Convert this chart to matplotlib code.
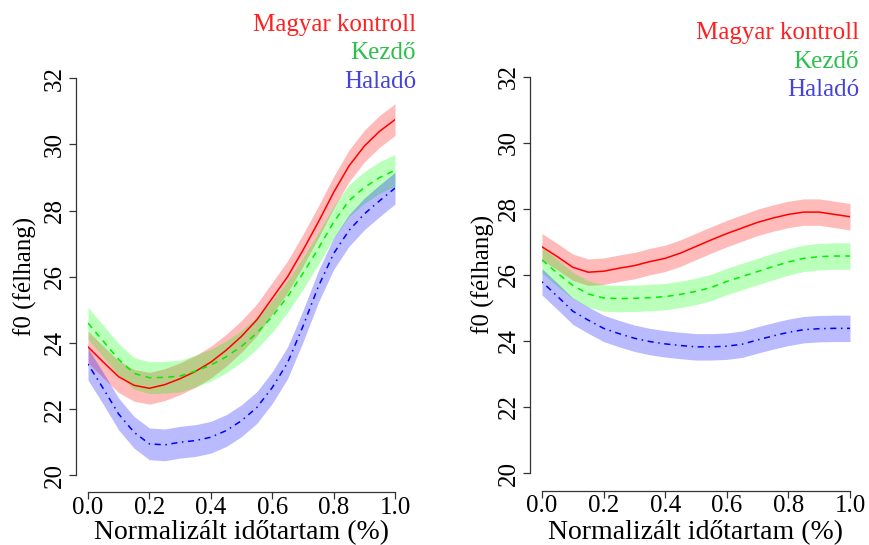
import matplotlib
matplotlib.use("Agg")
import matplotlib.pyplot as plt
import numpy as np

plt.rcParams['font.family'] = ['Liberation Serif', 'DejaVu Serif']

# normalised time points
x_pts = [0.0, 0.05, 0.1, 0.15, 0.2, 0.25, 0.3, 0.35, 0.4, 0.45, 0.5,
         0.55, 0.6, 0.65, 0.7, 0.75, 0.8, 0.85, 0.9, 0.95, 1.0]

# left panel: mean f0 (semitones)
left_kontroll = [23.88, 23.42, 22.98, 22.72, 22.63, 22.74, 22.92, 23.14, 23.42, 23.78, 24.2,
                 24.7, 25.35, 26.0, 26.8, 27.65, 28.55, 29.35, 29.95, 30.4, 30.75]
left_kezdo = [24.6, 24.05, 23.5, 23.08, 22.95, 22.96, 23.0, 23.15, 23.33, 23.58, 23.9,
              24.3, 24.8, 25.4, 26.1, 26.85, 27.65, 28.3, 28.7, 29.0, 29.22]
left_halado = [23.36, 22.62, 21.85, 21.3, 20.95, 20.92, 21.0, 21.05, 21.15, 21.35, 21.65,
               22.05, 22.65, 23.4, 24.5, 25.7, 26.7, 27.4, 27.9, 28.3, 28.68]

# right panel
right_kontroll = [26.85, 26.55, 26.23, 26.08, 26.11, 26.2, 26.28, 26.4, 26.5, 26.66, 26.86,
                  27.06, 27.25, 27.42, 27.59, 27.72, 27.83, 27.9, 27.9, 27.83, 27.76]
right_kezdo = [26.45, 26.05, 25.68, 25.42, 25.3, 25.28, 25.29, 25.31, 25.34, 25.41, 25.5,
               25.62, 25.8, 25.95, 26.1, 26.25, 26.39, 26.5, 26.55, 26.57, 26.57]
right_halado = [25.79, 25.35, 24.9, 24.63, 24.38, 24.22, 24.08, 23.98, 23.91, 23.86, 23.82,
                23.82, 23.84, 23.9, 24.03, 24.15, 24.26, 24.34, 24.37, 24.38, 24.38]

left_ci = 0.48
right_ci = 0.4

groups = ['Magyar kontroll', 'Kezdő', 'Haladó']
line_cols = ['#ff0000', '#00ee00', '#0000ff']
band_cols = ['#ff0000', '#00ff00', '#0000ff']
text_cols = ['#ff2020', '#2dbf4d', '#4444dd']
styles = ['-', (0, (4, 3.5)), (0, (1, 3, 4, 3))]

fig = plt.figure(figsize=(8.69, 5.45), dpi=100)
W, H = 869, 545


def px2pt(p):
    return p * 72 / 100


def panel(box, series, ci, yoff, xoff, ylab_x, leg_x, leg_ys):
    x0, x1, y0, y1 = box
    ax = fig.add_axes([x0 / W, 1 - y1 / H, (x1 - x0) / W, (y1 - y0) / H])
    xs = np.array(x_pts)
    for vals, lc, bc, ls in zip(series, line_cols, band_cols, styles):
        v = np.array(vals)
        ax.fill_between(xs, v - ci, v + ci, color=bc, alpha=0.27, linewidth=0)
        ax.plot(xs, v, color=lc, linestyle=ls, linewidth=1.1)
    ax.set_xlim(0, 1)
    ax.set_ylim(20, 32)
    for s in ['top', 'right']:
        ax.spines[s].set_visible(False)
    for s in ['left', 'bottom']:
        ax.spines[s].set_color('#333333')
        ax.spines[s].set_linewidth(0.9)
    ax.spines['left'].set_position(('outward', px2pt(yoff)))
    ax.spines['bottom'].set_position(('outward', px2pt(xoff)))
    ax.spines['left'].set_bounds(20, 32)
    ax.spines['bottom'].set_bounds(0, 1)
    ax.set_xticks([0, 0.2, 0.4, 0.6, 0.8, 1.0])
    ax.set_xticklabels(['0.0', '0.2', '0.4', '0.6', '0.8', '1.0'])
    ax.set_yticks([20, 22, 24, 26, 28, 30, 32])
    ax.tick_params(labelsize=18, length=5, width=0.9, color='#333333')
    ax.tick_params(axis='x', pad=-1.5)
    ax.tick_params(axis='y', pad=2.3)
    for lab in ax.get_yticklabels():
        lab.set_rotation(90)
        lab.set_va('center')
    xc = (x0 + x1) / 2
    fig.text(xc / W, 1 - 539 / H, 'Normalizált időtartam (%)', fontsize=20,
             ha='center', va='baseline')
    fig.text(ylab_x / W, 1 - ((y0 + y1) / 2) / H, 'f0 (félhang)', fontsize=18,
             rotation=90, ha='center', va='center')
    for g, tc, ly in zip(groups, text_cols, leg_ys):
        fig.text(leg_x / W, 1 - ly / H, g, color=tc, fontsize=18,
                 ha='right', va='center')
    return ax


panel((88, 395, 78.3, 475.3), [left_kontroll, left_kezdo, left_halado], left_ci,
      12.3, 17, 25, 416, [24.7, 53, 82])
panel((542, 850, 76.7, 473), [right_kontroll, right_kezdo, right_halado], right_ci,
      12, 17.5, 483, 859, [33, 61.5, 90.5])

fig.savefig('out.png', dpi=100)
